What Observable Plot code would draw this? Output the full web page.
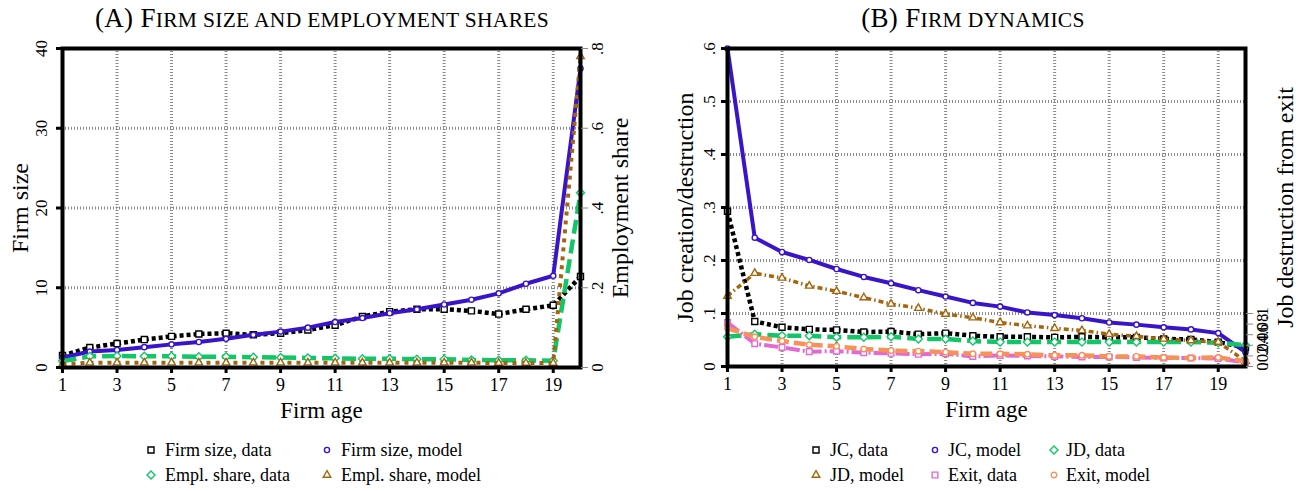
<!DOCTYPE html>
<html>
<head>
<meta charset="utf-8">
<script src="https://cdn.jsdelivr.net/npm/d3@7"></script>
<script src="https://cdn.jsdelivr.net/npm/@observablehq/plot@0.6"></script>
<style>
  body { margin: 0; background: #fff; font-family: "Liberation Serif", serif; color: #000; }
  #wrap { position: relative; width: 1304px; height: 491px; overflow: hidden; }
  .title { position: absolute; top: 0; font-size: 27px; line-height: 36px; white-space: nowrap; transform: translateX(-50%); letter-spacing: 0.3px; }
  .title .sc { font-size: 21.5px; }
  .chart { position: absolute; top: 35px; }
  .leg { position: absolute; font-size: 18px; line-height: 20px; white-space: nowrap; }
  .legsym { position: absolute; }
</style>
</head>
<body>
<div id="wrap">
  <div class="title" style="left:322px">(A) F<span class="sc">IRM SIZE AND EMPLOYMENT SHARES</span></div>
  <div class="title" style="left:973px">(B) F<span class="sc">IRM DYNAMICS</span></div>
  <div class="chart" id="panelA" style="left:0px"></div>
  <div class="chart" id="panelB" style="left:652px"></div>
</div>
<script>
// Firm age 1..20
const ages = [1, 2, 3, 4, 5, 6, 7, 8, 9, 10, 11, 12, 13, 14, 15, 16, 17, 18, 19, 20];

// Panel A: average firm size (left axis) and employment share (right axis)
const firmSizeData   = [1.5, 2.5, 3.0, 3.5, 3.9, 4.2, 4.3, 4.1, 4.3, 4.7, 5.3, 6.4, 7.0, 7.3, 7.3, 7.1, 6.7, 7.3, 7.8, 11.4];
const firmSizeModel  = [1.25, 2.0, 2.2, 2.55, 2.9, 3.2, 3.6, 4.1, 4.5, 5.0, 5.7, 6.2, 6.8, 7.3, 7.9, 8.5, 9.3, 10.5, 11.5, 37.5];
const emplShareData  = [0.016, 0.028, 0.029, 0.028, 0.028, 0.027, 0.027, 0.026, 0.025, 0.024, 0.023, 0.022, 0.022, 0.021, 0.021, 0.019, 0.018, 0.018, 0.017, 0.438];
const emplShareModel = [0.008, 0.012, 0.012, 0.012, 0.012, 0.012, 0.012, 0.012, 0.012, 0.012, 0.012, 0.012, 0.012, 0.012, 0.012, 0.012, 0.011, 0.011, 0.011, 0.78];

// Panel B: job creation / destruction rates and job destruction from exit
const jcData    = [0.293, 0.085, 0.074, 0.070, 0.069, 0.065, 0.066, 0.061, 0.063, 0.058, 0.056, 0.056, 0.055, 0.056, 0.055, 0.055, 0.052, 0.051, 0.046, 0.036];
const jcModel   = [0.600, 0.243, 0.216, 0.201, 0.184, 0.169, 0.157, 0.144, 0.132, 0.120, 0.113, 0.102, 0.097, 0.091, 0.083, 0.079, 0.074, 0.070, 0.063, 0.027];
const jdData    = [0.056, 0.061, 0.058, 0.058, 0.055, 0.055, 0.056, 0.052, 0.052, 0.048, 0.046, 0.046, 0.046, 0.046, 0.046, 0.046, 0.046, 0.046, 0.045, 0.040];
const jdModel   = [0.133, 0.176, 0.167, 0.152, 0.142, 0.130, 0.118, 0.110, 0.099, 0.092, 0.083, 0.077, 0.072, 0.068, 0.061, 0.057, 0.052, 0.049, 0.046, 0.010];
const exitData  = [0.083, 0.043, 0.036, 0.028, 0.029, 0.026, 0.025, 0.023, 0.024, 0.019, 0.021, 0.020, 0.019, 0.018, 0.018, 0.017, 0.016, 0.016, 0.015, 0.008];
const exitModel = [0.072, 0.056, 0.048, 0.041, 0.038, 0.033, 0.030, 0.029, 0.027, 0.024, 0.024, 0.023, 0.021, 0.021, 0.019, 0.019, 0.017, 0.016, 0.017, 0.010];

// Axis ticks
const ageTicks = [1, 3, 5, 7, 9, 11, 13, 15, 17, 19];
const ageGrid = [3, 5, 7, 9, 11, 13, 15, 17, 19];
const sizeTicks = [0, 10, 20, 30, 40];
const shareTicks = [0, 0.2, 0.4, 0.6, 0.8];
const rateTicks = [0, 0.1, 0.2, 0.3, 0.4, 0.5, 0.6];
const exitTicks = [0, 0.02, 0.04, 0.06, 0.08, 0.1];

// Series labels
const labelsA = ["Firm size, data", "Firm size, model", "Empl. share, data", "Empl. share, model"];
const labelsB = ["JC, data", "JC, model", "JD, data", "JD, model", "Exit, data", "Exit, model"];

// Line / marker styles
const BLACK = "#000000", BLUE = "#3a14c8", GREEN = "#12c566", BROWN = "#a5650c", PINK = "#e36ad0", ORANGE = "#f7915a";
const styles = {
  sizeData:   {color: BLACK,  width: 4.5, dash: "4 3",       symbol: "square",    r: 3.4},
  sizeModel:  {color: BLUE,   width: 4,   dash: null,        symbol: "circle",    r: 2.6},
  shareData:  {color: GREEN,  width: 4.5, dash: "14 6",      symbol: "diamond2",  r: 3.6},
  shareModel: {color: BROWN,  width: 4,   dash: "4 5",       symbol: "triangle2", r: 3.6},
  jcData:     {color: BLACK,  width: 4.5, dash: "4 3",       symbol: "square",    r: 3.4},
  jcModel:    {color: BLUE,   width: 4,   dash: null,        symbol: "circle",    r: 2.6},
  jdData:     {color: GREEN,  width: 4.5, dash: "14 6",      symbol: "diamond2",  r: 3.6},
  jdModel:    {color: BROWN,  width: 3.5, dash: "5 3 1.5 3", symbol: "triangle2", r: 3.6},
  exitData:   {color: PINK,   width: 4,   dash: "14 3 2 3",  symbol: "square",    r: 3.2},
  exitModel:  {color: ORANGE, width: 4.5, dash: "12 5",      symbol: "circle",    r: 2.8}
};

// Stata-style number labels: 0, .2, .04 ...
const fmt = d => d === 0 ? "0" : String(+d.toFixed(3)).replace(/^0\./, ".");

const gridStyle = {stroke: "#8a8a8a", strokeOpacity: 1, strokeWidth: 3, strokeDasharray: "1 2"};

function seriesMarks(values, st, scale = 1) {
  const rows = ages.map((age, i) => ({age, value: values[i] * scale}));
  return [
    Plot.line(rows, {x: "age", y: "value", stroke: st.color, strokeWidth: st.width,
      strokeDasharray: st.dash, strokeLinecap: "butt", strokeLinejoin: "round"}),
    Plot.dot(rows, {x: "age", y: "value", symbol: st.symbol, r: st.r,
      fill: "white", stroke: st.color, strokeWidth: 1.4})
  ];
}

// Rotated axis titles and the horizontal "Firm age" title
function axisTitles(left, right) {
  const common = {text: d => d, rotate: -90, fontSize: 24, textAnchor: "middle", lineAnchor: "middle"};
  return [
    Plot.text([left], {...common, frameAnchor: "left", dx: -42}),
    Plot.text([right], {...common, frameAnchor: "right", dx: 40}),
    Plot.text(["Firm age"], {text: d => d, frameAnchor: "bottom", dy: 43, fontSize: 23, textAnchor: "middle", lineAnchor: "middle"})
  ];
}

const baseStyle = {fontFamily: "Liberation Serif", fontSize: "17px", color: "black", background: "transparent", overflow: "visible"};

// Right axis of panel A shares the firm-size scale: share 0.8 lines up with size 40
const shareToSize = 40 / 0.8;

const chartA = Plot.plot({
  width: 652, height: 385,
  marginLeft: 62, marginRight: 72, marginTop: 13, marginBottom: 53,
  x: {domain: [1, 20]},
  y: {domain: [0, 40]},
  style: baseStyle,
  marks: [
    Plot.gridX(ageGrid, gridStyle),
    Plot.gridY(sizeTicks.slice(1), gridStyle),
    ...seriesMarks(firmSizeData, styles.sizeData),
    ...seriesMarks(firmSizeModel, styles.sizeModel),
    ...seriesMarks(emplShareData, styles.shareData, shareToSize),
    ...seriesMarks(emplShareModel, styles.shareModel, shareToSize),
    Plot.frame({stroke: "black", strokeWidth: 4}),
    Plot.axisX(ageTicks, {tickSize: 6, strokeWidth: 3, tickPadding: 5, fontSize: 18, label: null}),
    Plot.axisY(sizeTicks, {anchor: "left", tickSize: 6, strokeWidth: 3, tickRotate: -90, tickPadding: 10,
      textAnchor: "middle", lineAnchor: "bottom", fontSize: 17, label: null}),
    Plot.axisY(shareTicks.map(d => d * shareToSize), {anchor: "right", tickSize: 7, stroke: "#8a8a8a", strokeWidth: 1,
      tickRotate: -90, tickPadding: 3, textAnchor: "middle", lineAnchor: "top", fontSize: 17,
      tickFormat: d => fmt(d / shareToSize), label: null}),
    ...axisTitles("Firm size", "Employment share")
  ]
});
document.getElementById("panelA").append(chartA);

const chartB = Plot.plot({
  width: 652, height: 385,
  marginLeft: 75, marginRight: 59, marginTop: 13, marginBottom: 54,
  x: {domain: [1, 20]},
  y: {domain: [0, 0.6]},
  style: baseStyle,
  marks: [
    Plot.gridX(ageGrid, gridStyle),
    Plot.gridY(rateTicks.slice(1), gridStyle),
    ...seriesMarks(jcData, styles.jcData),
    ...seriesMarks(jcModel, styles.jcModel),
    ...seriesMarks(jdData, styles.jdData),
    ...seriesMarks(jdModel, styles.jdModel),
    ...seriesMarks(exitData, styles.exitData),
    ...seriesMarks(exitModel, styles.exitModel),
    Plot.frame({stroke: "black", strokeWidth: 4}),
    Plot.axisX(ageTicks, {tickSize: 6, strokeWidth: 3, tickPadding: 5, fontSize: 18, label: null}),
    Plot.axisY(rateTicks, {anchor: "left", tickSize: 6, strokeWidth: 3, tickRotate: -90, tickPadding: 7,
      textAnchor: "middle", lineAnchor: "bottom", fontSize: 17, tickFormat: fmt, label: null}),
    Plot.axisY(exitTicks, {anchor: "right", tickSize: 7, stroke: "#8a8a8a", strokeWidth: 1,
      tickRotate: -90, tickPadding: 3, textAnchor: "middle", lineAnchor: "top", fontSize: 17,
      tickFormat: fmt, label: null}),
    ...axisTitles("Job creation/destruction", "Job destruction from exit")
  ]
});
document.getElementById("panelB").append(chartB);

// Legends below each panel
const symbolTypes = {square: d3.symbolSquare, circle: d3.symbolCircle, diamond2: d3.symbolDiamond2, triangle2: d3.symbolTriangle2};
function addLegend(items) {
  const wrap = document.getElementById("wrap");
  for (const it of items) {
    const st = it.style;
    const svg = d3.create("svg").attr("class", "legsym").attr("width", 14).attr("height", 14)
      .style("left", (it.mx - 7) + "px").style("top", (it.my - 7) + "px");
    svg.append("path")
      .attr("transform", "translate(7,7)")
      .attr("d", d3.symbol(symbolTypes[st.symbol], Math.PI * st.r * st.r)())
      .attr("fill", "white").attr("stroke", st.color).attr("stroke-width", 1.4);
    wrap.append(svg.node());
    const t = document.createElement("div");
    t.className = "leg";
    t.textContent = it.label;
    t.style.left = it.tx + "px";
    t.style.top = (it.my - 10) + "px";
    wrap.append(t);
  }
}
addLegend([
  {label: labelsA[0], style: styles.sizeData,   mx: 151, my: 450, tx: 165},
  {label: labelsA[1], style: styles.sizeModel,  mx: 327, my: 450, tx: 341},
  {label: labelsA[2], style: styles.shareData,  mx: 151, my: 475, tx: 165},
  {label: labelsA[3], style: styles.shareModel, mx: 327, my: 475, tx: 341}
]);
addLegend([
  {label: labelsB[0], style: styles.jcData,    mx: 816,  my: 450, tx: 830},
  {label: labelsB[1], style: styles.jcModel,   mx: 935,  my: 450, tx: 948},
  {label: labelsB[2], style: styles.jdData,    mx: 1054, my: 450, tx: 1066},
  {label: labelsB[3], style: styles.jdModel,   mx: 816,  my: 475, tx: 830},
  {label: labelsB[4], style: styles.exitData,  mx: 935,  my: 475, tx: 948},
  {label: labelsB[5], style: styles.exitModel, mx: 1054, my: 475, tx: 1066}
]);
</script>
</body>
</html>
